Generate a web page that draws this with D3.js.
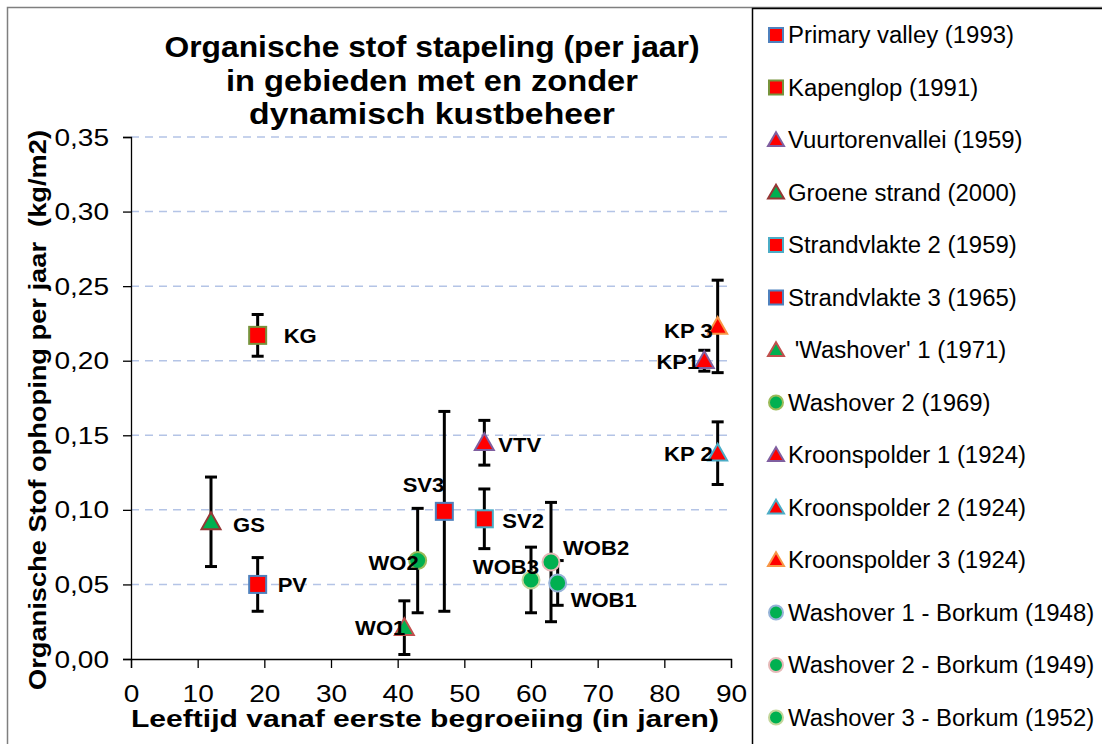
<!DOCTYPE html>
<html>
<head>
<meta charset="utf-8">
<script src="https://cdn.jsdelivr.net/npm/d3@7"></script>
<style>
  body { margin: 0; background: #fff; }
  text { font-family: "Liberation Sans", Arial, sans-serif; }
</style>
</head>
<body>
<div id="chart"></div>
<script>
// series as shown in the legend
var names = ["Primary valley (1993)", "Kapenglop (1991)", "Vuurtorenvallei (1959)", "Groene strand (2000)",
  "Strandvlakte 2 (1959)", "Strandvlakte 3 (1965)", " 'Washover' 1 (1971)", "Washover 2 (1969)",
  "Kroonspolder 1 (1924)", "Kroonspolder 2 (1924)", "Kroonspolder 3 (1924)",
  "Washover 1 - Borkum (1948)", "Washover 2 - Borkum (1949)", "Washover 3 - Borkum (1952)"];
var codes = ["PV", "KG", "VTV", "GS", "SV2", "SV3", "WO1", "WO2", "KP1", "KP 2", "KP 3", "WOB1", "WOB2", "WOB3"];
var ages = [19, 19, 53, 12, 53, 47, 41, 43, 86, 88, 88, 64, 63, 60];
var values = [0.050, 0.217, 0.145, 0.092, 0.094, 0.099, 0.021, 0.066, 0.200, 0.138, 0.223, 0.051, 0.065, 0.053];
var errors = [0.018, 0.014, 0.015, 0.030, 0.020, 0.067, 0.018, 0.035, 0.007, 0.021, 0.031, 0.015, 0.040, 0.022];

var xTicks = [0, 10, 20, 30, 40, 50, 60, 70, 80, 90];
var yTicks = [0, 0.05, 0.10, 0.15, 0.20, 0.25, 0.30, 0.35];

// marker look per series
var shapes = ["square", "square", "triangle", "triangle", "square", "square", "triangle", "circle",
  "triangle", "triangle", "triangle", "circle", "circle", "circle"];
var fills = ["#ff0000", "#ff0000", "#ff0000", "#00b050", "#ff0000", "#ff0000", "#00b050", "#00b050",
  "#ff0000", "#ff0000", "#ff0000", "#00b050", "#00b050", "#00b050"];
var borders = ["#4f81bd", "#77933c", "#7f5fa0", "#953735", "#4bacc6", "#4f81bd", "#c0504d", "#9bbb59",
  "#7f5fa0", "#4bacc6", "#f79646", "#95b3d7", "#e6b9b8", "#c3d69b"];

// where each point label sits relative to its marker
var labelPlace = [
  { dx: 20, dy: 0, a: "start" }, { dx: 26, dy: 0, a: "start" }, { dx: 14, dy: 2, a: "start" },
  { dx: 22, dy: 3, a: "start" }, { dx: 18, dy: 2, a: "start" }, { dx: 0, dy: -27, a: "end" },
  { dx: 1, dy: 0, a: "end" }, { dx: 1, dy: 2, a: "end" }, { dx: -5, dy: 1, a: "end" },
  { dx: -5, dy: 0, a: "end" }, { dx: -5, dy: 4, a: "end" }, { dx: 13, dy: 17, a: "start" },
  { dx: 12, dy: -14, a: "start" }, { dx: 8, dy: -13, a: "end" }
];

var w = 1102, h = 744;
var mLeft = 131, mRight = 731, mTop = 137, mBottom = 659;

// widen text a little, the original chart's lettering is stretched sideways
function stretch(sel, k) {
  sel.each(function() {
    var len = this.getComputedTextLength();
    d3.select(this).attr("textLength", len * k).attr("lengthAdjust", "spacingAndGlyphs");
  });
}

var svg = d3.select("#chart").append("svg")
  .attr("width", w)
  .attr("height", h);

svg.append("rect")
  .attr("x", 7.5).attr("y", 7.5)
  .attr("width", 1200).attr("height", 800)
  .attr("fill", "#fff")
  .attr("stroke", "#7f7f7f")
  .attr("stroke-width", 1.5);

var xScale = d3.scaleLinear().domain([0, 90]).range([mLeft, mRight]);
var yScale = d3.scaleLinear().domain([0, 0.35]).range([mBottom, mTop]);

// dashed gridlines
svg.append("g")
  .selectAll("line")
  .data(yTicks.filter(function(d) { return d > 0; }))
  .enter().append("line")
  .attr("x1", mLeft).attr("x2", mRight)
  .attr("y1", function(d) { return yScale(d); })
  .attr("y2", function(d) { return yScale(d); })
  .attr("stroke", "#b4c4e6")
  .attr("stroke-width", 1.5)
  .attr("stroke-dasharray", "8,6");

var fmt = function(d) { return d3.format(".2f")(d).replace(".", ","); };

var yAxis = d3.axisLeft(yScale).tickValues(yTicks).tickFormat(fmt).tickSize(8).tickPadding(14);
var xAxis = d3.axisBottom(xScale).tickValues(xTicks).tickFormat(d3.format("d")).tickSize(9).tickPadding(18);

var gy = svg.append("g")
  .attr("transform", "translate(" + mLeft + ",0)")
  .call(yAxis);
var gx = svg.append("g")
  .attr("transform", "translate(0," + mBottom + ")")
  .call(xAxis);

[gx, gy].forEach(function(g) {
  g.selectAll(".domain").attr("stroke", "#000").attr("stroke-width", 1.3);
  g.selectAll(".tick line").attr("stroke", "#000").attr("stroke-width", 1.3);
  g.selectAll(".tick text").attr("font-size", 23).attr("fill", "#000")
    .style("font-family", "Liberation Sans, Arial, sans-serif");
  stretch(g.selectAll(".tick text"), 1.22);
});
gy.selectAll(".tick text").attr("dy", "0.35em");

// titles
var title = ["Organische stof stapeling (per jaar)", "in gebieden met en zonder", "dynamisch kustbeheer"];
var titleWidths = [535, 412, 366];
svg.append("g")
  .selectAll("text")
  .data(title)
  .enter().append("text")
  .attr("x", 432)
  .attr("y", function(d, i) { return 57 + i * 33.5; })
  .attr("text-anchor", "middle")
  .attr("font-size", 29)
  .attr("font-weight", "bold")
  .attr("textLength", function(d, i) { return titleWidths[i]; })
  .attr("lengthAdjust", "spacingAndGlyphs")
  .text(function(d) { return d; });

svg.append("text")
  .attr("transform", "translate(46,410) rotate(-90)")
  .attr("text-anchor", "middle")
  .attr("font-size", 24)
  .attr("font-weight", "bold")
  .attr("xml:space", "preserve")
  .attr("textLength", 560)
  .attr("lengthAdjust", "spacingAndGlyphs")
  .text("Organische Stof ophoping per jaar  (kg/m2)");

svg.append("text")
  .attr("x", 425).attr("y", 727)
  .attr("text-anchor", "middle")
  .attr("font-size", 24)
  .attr("font-weight", "bold")
  .attr("textLength", 588)
  .attr("lengthAdjust", "spacingAndGlyphs")
  .text("Leeftijd vanaf eerste begroeiing (in jaren)");

function marker(g, shape, size, fill, stroke) {
  var s = size / 2;
  if (shape === "square") {
    g.append("rect").attr("x", -s).attr("y", -s).attr("width", size).attr("height", size)
      .attr("fill", fill).attr("stroke", stroke).attr("stroke-width", 2);
  } else if (shape === "triangle") {
    var th = size * 0.9;
    g.append("path")
      .attr("d", "M0," + (-th * 0.62) + "L" + (s + 1) + "," + (th * 0.48) + "L" + (-s - 1) + "," + (th * 0.48) + "Z")
      .attr("fill", fill).attr("stroke", stroke).attr("stroke-width", 2).attr("stroke-linejoin", "miter");
  } else {
    g.append("circle").attr("r", s).attr("fill", fill).attr("stroke", stroke).attr("stroke-width", 2);
  }
}

var idx = d3.range(names.length);

// error bars
idx.forEach(function(i) {
  var cx = xScale(ages[i]);
  var y1 = yScale(values[i] + errors[i]);
  var y0 = yScale(values[i] - errors[i]);
  var eb = svg.append("g").attr("stroke", "#000").attr("stroke-width", 3);
  eb.append("line").attr("x1", cx).attr("x2", cx).attr("y1", y1).attr("y2", y0);
  eb.append("line").attr("x1", cx - 6).attr("x2", cx + 6).attr("y1", y1).attr("y2", y1);
  eb.append("line").attr("x1", cx - 6).attr("x2", cx + 6).attr("y1", y0).attr("y2", y0);
});

// markers
idx.forEach(function(i) {
  var g = svg.append("g")
    .attr("transform", "translate(" + xScale(ages[i]) + "," + yScale(values[i]) + ")");
  marker(g, shapes[i], 17, fills[i], borders[i]);
});

// point labels
var pl = svg.append("g")
  .selectAll("text")
  .data(idx)
  .enter().append("text")
  .attr("x", function(i) { return xScale(ages[i]) + labelPlace[i].dx; })
  .attr("y", function(i) { return yScale(values[i]) + labelPlace[i].dy; })
  .attr("dy", "0.35em")
  .attr("text-anchor", function(i) { return labelPlace[i].a; })
  .attr("font-size", 21)
  .attr("font-weight", "bold")
  .text(function(i) { return codes[i]; });
stretch(pl, 1.05);

// legend
svg.append("rect")
  .attr("x", 752.5).attr("y", 8.5)
  .attr("width", 400).attr("height", 800)
  .attr("fill", "#fff")
  .attr("stroke", "#000")
  .attr("stroke-width", 1.5);

var lg = svg.append("g")
  .selectAll("g")
  .data(idx)
  .enter().append("g")
  .attr("transform", function(i) { return "translate(776," + (35 + i * 52.5) + ")"; });

lg.each(function(i) {
  marker(d3.select(this), shapes[i], 14, fills[i], borders[i]);
});

var lt = lg.append("text")
  .attr("x", 12)
  .attr("dy", "0.35em")
  .attr("font-size", 23)
  .attr("xml:space", "preserve")
  .text(function(i) { return names[i]; });
stretch(lt, 1.04);
</script>
</body>
</html>
